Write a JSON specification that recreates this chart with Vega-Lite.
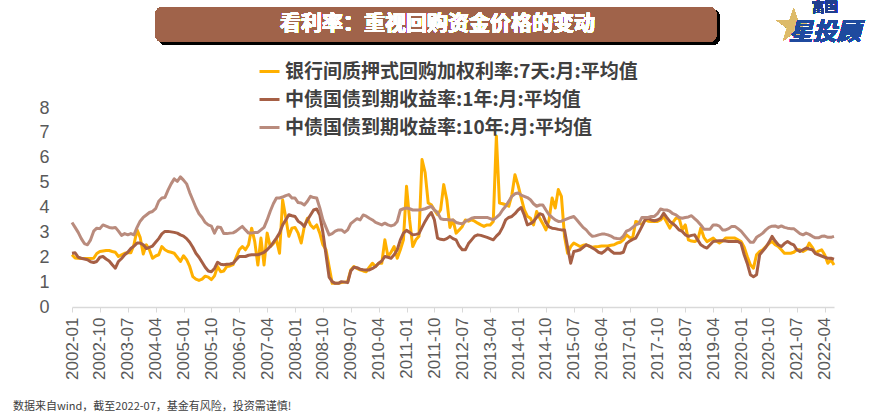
{
"$schema": "https://vega.github.io/schema/vega-lite/v6.json",
"width": 762, "height": 199,
"autosize": {"type": "none"},
"padding": {"left": 72, "top": 108, "right": 39, "bottom": 106},
"background": "white",
"config": {"view": {"stroke": null}, "font": "Liberation Sans"},
"title": {"text": "数据来自wind，截至2022-07，基金有风险，投资需谨慎!", "orient": "bottom", "anchor": "start", "frame": "bounds", "fontSize": 11, "fontWeight": "normal", "color": "#404040", "font": "Noto Sans CJK SC", "offset": 22, "dx": -26},
"resolve": {"scale": {"y": "independent"}, "axis": {"y": "independent"}},
"data": {"values": [
{"d":"2002-01","s":"r","v":2.1},{"d":"2002-01","s":"y1","v":2.16},{"d":"2002-01","s":"y10","v":3.4},
{"d":"2002-02","s":"r","v":1.97},{"d":"2002-02","s":"y1","v":2.18},{"d":"2002-02","s":"y10","v":3.2},
{"d":"2002-03","s":"r","v":1.96},{"d":"2002-03","s":"y1","v":2.0},{"d":"2002-03","s":"y10","v":3.0},
{"d":"2002-04","s":"r","v":1.95},{"d":"2002-04","s":"y1","v":1.96},{"d":"2002-04","s":"y10","v":2.75},
{"d":"2002-05","s":"r","v":1.95},{"d":"2002-05","s":"y1","v":1.93},{"d":"2002-05","s":"y10","v":2.55},
{"d":"2002-06","s":"r","v":1.95},{"d":"2002-06","s":"y1","v":1.9},{"d":"2002-06","s":"y10","v":2.5},
{"d":"2002-07","s":"r","v":1.95},{"d":"2002-07","s":"y1","v":1.82},{"d":"2002-07","s":"y10","v":2.7},
{"d":"2002-08","s":"r","v":1.96},{"d":"2002-08","s":"y1","v":1.79},{"d":"2002-08","s":"y10","v":3.05},
{"d":"2002-09","s":"r","v":2.15},{"d":"2002-09","s":"y1","v":1.83},{"d":"2002-09","s":"y10","v":3.17},
{"d":"2002-10","s":"r","v":2.23},{"d":"2002-10","s":"y1","v":2.0},{"d":"2002-10","s":"y10","v":3.15},
{"d":"2002-11","s":"r","v":2.25},{"d":"2002-11","s":"y1","v":2.03},{"d":"2002-11","s":"y10","v":3.3},
{"d":"2002-12","s":"r","v":2.27},{"d":"2002-12","s":"y1","v":1.93},{"d":"2002-12","s":"y10","v":3.25},
{"d":"2003-01","s":"r","v":2.27},{"d":"2003-01","s":"y1","v":1.85},{"d":"2003-01","s":"y10","v":3.2},
{"d":"2003-02","s":"r","v":2.23},{"d":"2003-02","s":"y1","v":1.7},{"d":"2003-02","s":"y10","v":3.18},
{"d":"2003-03","s":"r","v":2.2},{"d":"2003-03","s":"y1","v":1.56},{"d":"2003-03","s":"y10","v":3.2},
{"d":"2003-04","s":"r","v":2.03},{"d":"2003-04","s":"y1","v":1.83},{"d":"2003-04","s":"y10","v":3.05},
{"d":"2003-05","s":"r","v":2.1},{"d":"2003-05","s":"y1","v":1.95},{"d":"2003-05","s":"y10","v":2.88},
{"d":"2003-06","s":"r","v":2.16},{"d":"2003-06","s":"y1","v":2.1},{"d":"2003-06","s":"y10","v":2.95},
{"d":"2003-07","s":"r","v":2.18},{"d":"2003-07","s":"y1","v":2.2},{"d":"2003-07","s":"y10","v":2.9},
{"d":"2003-08","s":"r","v":2.18},{"d":"2003-08","s":"y1","v":2.35},{"d":"2003-08","s":"y10","v":2.95},
{"d":"2003-09","s":"r","v":2.5},{"d":"2003-09","s":"y1","v":2.45},{"d":"2003-09","s":"y10","v":2.9},
{"d":"2003-10","s":"r","v":3.1},{"d":"2003-10","s":"y1","v":2.57},{"d":"2003-10","s":"y10","v":3.2},
{"d":"2003-11","s":"r","v":2.8},{"d":"2003-11","s":"y1","v":2.57},{"d":"2003-11","s":"y10","v":3.45},
{"d":"2003-12","s":"r","v":2.13},{"d":"2003-12","s":"y1","v":2.5},{"d":"2003-12","s":"y10","v":3.6},
{"d":"2004-01","s":"r","v":2.5},{"d":"2004-01","s":"y1","v":2.35},{"d":"2004-01","s":"y10","v":3.7},
{"d":"2004-02","s":"r","v":2.3},{"d":"2004-02","s":"y1","v":2.4},{"d":"2004-02","s":"y10","v":3.8},
{"d":"2004-03","s":"r","v":1.96},{"d":"2004-03","s":"y1","v":2.45},{"d":"2004-03","s":"y10","v":3.84},
{"d":"2004-04","s":"r","v":2.05},{"d":"2004-04","s":"y1","v":2.6},{"d":"2004-04","s":"y10","v":3.95},
{"d":"2004-05","s":"r","v":2.1},{"d":"2004-05","s":"y1","v":2.75},{"d":"2004-05","s":"y10","v":4.25},
{"d":"2004-06","s":"r","v":2.43},{"d":"2004-06","s":"y1","v":2.94},{"d":"2004-06","s":"y10","v":4.38},
{"d":"2004-07","s":"r","v":2.3},{"d":"2004-07","s":"y1","v":3.04},{"d":"2004-07","s":"y10","v":4.4},
{"d":"2004-08","s":"r","v":2.23},{"d":"2004-08","s":"y1","v":3.04},{"d":"2004-08","s":"y10","v":4.7},
{"d":"2004-09","s":"r","v":2.2},{"d":"2004-09","s":"y1","v":3.02},{"d":"2004-09","s":"y10","v":4.95},
{"d":"2004-10","s":"r","v":2.16},{"d":"2004-10","s":"y1","v":3.0},{"d":"2004-10","s":"y10","v":5.15},
{"d":"2004-11","s":"r","v":2.0},{"d":"2004-11","s":"y1","v":2.97},{"d":"2004-11","s":"y10","v":5.05},
{"d":"2004-12","s":"r","v":1.83},{"d":"2004-12","s":"y1","v":2.9},{"d":"2004-12","s":"y10","v":5.23},
{"d":"2005-01","s":"r","v":2.06},{"d":"2005-01","s":"y1","v":2.85},{"d":"2005-01","s":"y10","v":5.1},
{"d":"2005-02","s":"r","v":1.9},{"d":"2005-02","s":"y1","v":2.75},{"d":"2005-02","s":"y10","v":4.95},
{"d":"2005-03","s":"r","v":1.63},{"d":"2005-03","s":"y1","v":2.6},{"d":"2005-03","s":"y10","v":4.6},
{"d":"2005-04","s":"r","v":1.22},{"d":"2005-04","s":"y1","v":2.4},{"d":"2005-04","s":"y10","v":4.3},
{"d":"2005-05","s":"r","v":1.12},{"d":"2005-05","s":"y1","v":2.16},{"d":"2005-05","s":"y10","v":4.0},
{"d":"2005-06","s":"r","v":1.07},{"d":"2005-06","s":"y1","v":2.0},{"d":"2005-06","s":"y10","v":3.75},
{"d":"2005-07","s":"r","v":1.12},{"d":"2005-07","s":"y1","v":1.8},{"d":"2005-07","s":"y10","v":3.6},
{"d":"2005-08","s":"r","v":1.24},{"d":"2005-08","s":"y1","v":1.6},{"d":"2005-08","s":"y10","v":3.4},
{"d":"2005-09","s":"r","v":1.2},{"d":"2005-09","s":"y1","v":1.45},{"d":"2005-09","s":"y10","v":3.3},
{"d":"2005-10","s":"r","v":1.1},{"d":"2005-10","s":"y1","v":1.42},{"d":"2005-10","s":"y10","v":3.25},
{"d":"2005-11","s":"r","v":1.25},{"d":"2005-11","s":"y1","v":1.55},{"d":"2005-11","s":"y10","v":2.97},
{"d":"2005-12","s":"r","v":1.63},{"d":"2005-12","s":"y1","v":1.8},{"d":"2005-12","s":"y10","v":3.22},
{"d":"2006-01","s":"r","v":1.42},{"d":"2006-01","s":"y1","v":1.72},{"d":"2006-01","s":"y10","v":3.2},
{"d":"2006-02","s":"r","v":1.45},{"d":"2006-02","s":"y1","v":1.7},{"d":"2006-02","s":"y10","v":2.95},
{"d":"2006-03","s":"r","v":1.63},{"d":"2006-03","s":"y1","v":1.72},{"d":"2006-03","s":"y10","v":2.95},
{"d":"2006-04","s":"r","v":1.65},{"d":"2006-04","s":"y1","v":1.73},{"d":"2006-04","s":"y10","v":2.97},
{"d":"2006-05","s":"r","v":1.7},{"d":"2006-05","s":"y1","v":1.76},{"d":"2006-05","s":"y10","v":2.98},
{"d":"2006-06","s":"r","v":2.0},{"d":"2006-06","s":"y1","v":1.9},{"d":"2006-06","s":"y10","v":3.05},
{"d":"2006-07","s":"r","v":2.3},{"d":"2006-07","s":"y1","v":2.03},{"d":"2006-07","s":"y10","v":3.15},
{"d":"2006-08","s":"r","v":2.43},{"d":"2006-08","s":"y1","v":2.03},{"d":"2006-08","s":"y10","v":3.24},
{"d":"2006-09","s":"r","v":2.3},{"d":"2006-09","s":"y1","v":2.03},{"d":"2006-09","s":"y10","v":3.1},
{"d":"2006-10","s":"r","v":2.5},{"d":"2006-10","s":"y1","v":2.08},{"d":"2006-10","s":"y10","v":2.97},
{"d":"2006-11","s":"r","v":3.17},{"d":"2006-11","s":"y1","v":2.1},{"d":"2006-11","s":"y10","v":2.97},
{"d":"2006-12","s":"r","v":2.63},{"d":"2006-12","s":"y1","v":2.1},{"d":"2006-12","s":"y10","v":3.0},
{"d":"2007-01","s":"r","v":1.69},{"d":"2007-01","s":"y1","v":2.1},{"d":"2007-01","s":"y10","v":3.0},
{"d":"2007-02","s":"r","v":2.77},{"d":"2007-02","s":"y1","v":2.15},{"d":"2007-02","s":"y10","v":3.1},
{"d":"2007-03","s":"r","v":1.69},{"d":"2007-03","s":"y1","v":2.2},{"d":"2007-03","s":"y10","v":3.2},
{"d":"2007-04","s":"r","v":2.97},{"d":"2007-04","s":"y1","v":2.3},{"d":"2007-04","s":"y10","v":3.5},
{"d":"2007-05","s":"r","v":2.43},{"d":"2007-05","s":"y1","v":2.43},{"d":"2007-05","s":"y10","v":3.85},
{"d":"2007-06","s":"r","v":2.55},{"d":"2007-06","s":"y1","v":2.6},{"d":"2007-06","s":"y10","v":4.15},
{"d":"2007-07","s":"r","v":2.7},{"d":"2007-07","s":"y1","v":2.77},{"d":"2007-07","s":"y10","v":4.38},
{"d":"2007-08","s":"r","v":2.16},{"d":"2007-08","s":"y1","v":2.97},{"d":"2007-08","s":"y10","v":4.38},
{"d":"2007-09","s":"r","v":4.3},{"d":"2007-09","s":"y1","v":3.3},{"d":"2007-09","s":"y10","v":4.42},
{"d":"2007-10","s":"r","v":3.6},{"d":"2007-10","s":"y1","v":3.5},{"d":"2007-10","s":"y10","v":4.48},
{"d":"2007-11","s":"r","v":2.84},{"d":"2007-11","s":"y1","v":3.71},{"d":"2007-11","s":"y10","v":4.52},
{"d":"2007-12","s":"r","v":3.17},{"d":"2007-12","s":"y1","v":3.67},{"d":"2007-12","s":"y10","v":4.38},
{"d":"2008-01","s":"r","v":3.2},{"d":"2008-01","s":"y1","v":3.64},{"d":"2008-01","s":"y10","v":4.38},
{"d":"2008-02","s":"r","v":2.97},{"d":"2008-02","s":"y1","v":3.45},{"d":"2008-02","s":"y10","v":4.2},
{"d":"2008-03","s":"r","v":2.57},{"d":"2008-03","s":"y1","v":3.37},{"d":"2008-03","s":"y10","v":4.18},
{"d":"2008-04","s":"r","v":3.24},{"d":"2008-04","s":"y1","v":3.24},{"d":"2008-04","s":"y10","v":4.1},
{"d":"2008-05","s":"r","v":3.57},{"d":"2008-05","s":"y1","v":3.5},{"d":"2008-05","s":"y10","v":4.25},
{"d":"2008-06","s":"r","v":3.3},{"d":"2008-06","s":"y1","v":3.7},{"d":"2008-06","s":"y10","v":4.45},
{"d":"2008-07","s":"r","v":3.17},{"d":"2008-07","s":"y1","v":3.9},{"d":"2008-07","s":"y10","v":4.4},
{"d":"2008-08","s":"r","v":3.3},{"d":"2008-08","s":"y1","v":3.94},{"d":"2008-08","s":"y10","v":4.38},
{"d":"2008-09","s":"r","v":2.97},{"d":"2008-09","s":"y1","v":3.7},{"d":"2008-09","s":"y10","v":3.98},
{"d":"2008-10","s":"r","v":2.5},{"d":"2008-10","s":"y1","v":3.0},{"d":"2008-10","s":"y10","v":3.5},
{"d":"2008-11","s":"r","v":2.3},{"d":"2008-11","s":"y1","v":2.1},{"d":"2008-11","s":"y10","v":3.2},
{"d":"2008-12","s":"r","v":1.63},{"d":"2008-12","s":"y1","v":1.2},{"d":"2008-12","s":"y10","v":2.9},
{"d":"2009-01","s":"r","v":0.95},{"d":"2009-01","s":"y1","v":1.02},{"d":"2009-01","s":"y10","v":2.95},
{"d":"2009-02","s":"r","v":0.95},{"d":"2009-02","s":"y1","v":0.95},{"d":"2009-02","s":"y10","v":3.05},
{"d":"2009-03","s":"r","v":0.95},{"d":"2009-03","s":"y1","v":0.95},{"d":"2009-03","s":"y10","v":3.1},
{"d":"2009-04","s":"r","v":0.98},{"d":"2009-04","s":"y1","v":1.02},{"d":"2009-04","s":"y10","v":3.1},
{"d":"2009-05","s":"r","v":1.0},{"d":"2009-05","s":"y1","v":1.0},{"d":"2009-05","s":"y10","v":3.0},
{"d":"2009-06","s":"r","v":1.02},{"d":"2009-06","s":"y1","v":0.98},{"d":"2009-06","s":"y10","v":3.1},
{"d":"2009-07","s":"r","v":1.49},{"d":"2009-07","s":"y1","v":1.45},{"d":"2009-07","s":"y10","v":3.35},
{"d":"2009-08","s":"r","v":1.63},{"d":"2009-08","s":"y1","v":1.6},{"d":"2009-08","s":"y10","v":3.45},
{"d":"2009-09","s":"r","v":1.55},{"d":"2009-09","s":"y1","v":1.58},{"d":"2009-09","s":"y10","v":3.55},
{"d":"2009-10","s":"r","v":1.49},{"d":"2009-10","s":"y1","v":1.52},{"d":"2009-10","s":"y10","v":3.5},
{"d":"2009-11","s":"r","v":1.45},{"d":"2009-11","s":"y1","v":1.5},{"d":"2009-11","s":"y10","v":3.7},
{"d":"2009-12","s":"r","v":1.42},{"d":"2009-12","s":"y1","v":1.49},{"d":"2009-12","s":"y10","v":3.65},
{"d":"2010-01","s":"r","v":1.6},{"d":"2010-01","s":"y1","v":1.49},{"d":"2010-01","s":"y10","v":3.57},
{"d":"2010-02","s":"r","v":1.76},{"d":"2010-02","s":"y1","v":1.55},{"d":"2010-02","s":"y10","v":3.5},
{"d":"2010-03","s":"r","v":1.63},{"d":"2010-03","s":"y1","v":1.63},{"d":"2010-03","s":"y10","v":3.4},
{"d":"2010-04","s":"r","v":1.76},{"d":"2010-04","s":"y1","v":1.76},{"d":"2010-04","s":"y10","v":3.35},
{"d":"2010-05","s":"r","v":1.76},{"d":"2010-05","s":"y1","v":1.85},{"d":"2010-05","s":"y10","v":3.3},
{"d":"2010-06","s":"r","v":2.7},{"d":"2010-06","s":"y1","v":2.03},{"d":"2010-06","s":"y10","v":3.37},
{"d":"2010-07","s":"r","v":2.03},{"d":"2010-07","s":"y1","v":2.0},{"d":"2010-07","s":"y10","v":3.3},
{"d":"2010-08","s":"r","v":2.2},{"d":"2010-08","s":"y1","v":1.96},{"d":"2010-08","s":"y10","v":3.26},
{"d":"2010-09","s":"r","v":2.43},{"d":"2010-09","s":"y1","v":2.1},{"d":"2010-09","s":"y10","v":3.3},
{"d":"2010-10","s":"r","v":1.96},{"d":"2010-10","s":"y1","v":2.3},{"d":"2010-10","s":"y10","v":3.44},
{"d":"2010-11","s":"r","v":2.3},{"d":"2010-11","s":"y1","v":2.7},{"d":"2010-11","s":"y10","v":3.9},
{"d":"2010-12","s":"r","v":2.7},{"d":"2010-12","s":"y1","v":2.97},{"d":"2010-12","s":"y10","v":3.95},
{"d":"2011-01","s":"r","v":4.85},{"d":"2011-01","s":"y1","v":3.08},{"d":"2011-01","s":"y10","v":3.98},
{"d":"2011-02","s":"r","v":3.5},{"d":"2011-02","s":"y1","v":3.0},{"d":"2011-02","s":"y10","v":3.95},
{"d":"2011-03","s":"r","v":2.43},{"d":"2011-03","s":"y1","v":2.9},{"d":"2011-03","s":"y10","v":3.9},
{"d":"2011-04","s":"r","v":2.7},{"d":"2011-04","s":"y1","v":2.92},{"d":"2011-04","s":"y10","v":3.9},
{"d":"2011-05","s":"r","v":2.84},{"d":"2011-05","s":"y1","v":2.95},{"d":"2011-05","s":"y10","v":3.9},
{"d":"2011-06","s":"r","v":5.93},{"d":"2011-06","s":"y1","v":3.2},{"d":"2011-06","s":"y10","v":3.92},
{"d":"2011-07","s":"r","v":5.4},{"d":"2011-07","s":"y1","v":3.44},{"d":"2011-07","s":"y10","v":3.95},
{"d":"2011-08","s":"r","v":4.18},{"d":"2011-08","s":"y1","v":3.65},{"d":"2011-08","s":"y10","v":4.0},
{"d":"2011-09","s":"r","v":4.11},{"d":"2011-09","s":"y1","v":3.8},{"d":"2011-09","s":"y10","v":4.05},
{"d":"2011-10","s":"r","v":3.9},{"d":"2011-10","s":"y1","v":3.5},{"d":"2011-10","s":"y10","v":3.9},
{"d":"2011-11","s":"r","v":3.71},{"d":"2011-11","s":"y1","v":2.77},{"d":"2011-11","s":"y10","v":3.8},
{"d":"2011-12","s":"r","v":3.91},{"d":"2011-12","s":"y1","v":2.72},{"d":"2011-12","s":"y10","v":3.55},
{"d":"2012-01","s":"r","v":4.92},{"d":"2012-01","s":"y1","v":2.7},{"d":"2012-01","s":"y10","v":3.52},
{"d":"2012-02","s":"r","v":4.31},{"d":"2012-02","s":"y1","v":2.75},{"d":"2012-02","s":"y10","v":3.52},
{"d":"2012-03","s":"r","v":3.2},{"d":"2012-03","s":"y1","v":2.84},{"d":"2012-03","s":"y10","v":3.5},
{"d":"2012-04","s":"r","v":3.5},{"d":"2012-04","s":"y1","v":2.75},{"d":"2012-04","s":"y10","v":3.5},
{"d":"2012-05","s":"r","v":2.97},{"d":"2012-05","s":"y1","v":2.7},{"d":"2012-05","s":"y10","v":3.4},
{"d":"2012-06","s":"r","v":3.1},{"d":"2012-06","s":"y1","v":2.45},{"d":"2012-06","s":"y10","v":3.37},
{"d":"2012-07","s":"r","v":3.24},{"d":"2012-07","s":"y1","v":2.3},{"d":"2012-07","s":"y10","v":3.35},
{"d":"2012-08","s":"r","v":3.5},{"d":"2012-08","s":"y1","v":2.3},{"d":"2012-08","s":"y10","v":3.44},
{"d":"2012-09","s":"r","v":3.45},{"d":"2012-09","s":"y1","v":2.55},{"d":"2012-09","s":"y10","v":3.5},
{"d":"2012-10","s":"r","v":3.5},{"d":"2012-10","s":"y1","v":2.7},{"d":"2012-10","s":"y10","v":3.57},
{"d":"2012-11","s":"r","v":3.45},{"d":"2012-11","s":"y1","v":2.85},{"d":"2012-11","s":"y10","v":3.6},
{"d":"2012-12","s":"r","v":3.37},{"d":"2012-12","s":"y1","v":2.9},{"d":"2012-12","s":"y10","v":3.6},
{"d":"2013-01","s":"r","v":3.3},{"d":"2013-01","s":"y1","v":2.88},{"d":"2013-01","s":"y10","v":3.6},
{"d":"2013-02","s":"r","v":3.24},{"d":"2013-02","s":"y1","v":2.84},{"d":"2013-02","s":"y10","v":3.6},
{"d":"2013-03","s":"r","v":3.3},{"d":"2013-03","s":"y1","v":2.8},{"d":"2013-03","s":"y10","v":3.6},
{"d":"2013-04","s":"r","v":3.3},{"d":"2013-04","s":"y1","v":2.75},{"d":"2013-04","s":"y10","v":3.55},
{"d":"2013-05","s":"r","v":3.44},{"d":"2013-05","s":"y1","v":2.7},{"d":"2013-05","s":"y10","v":3.5},
{"d":"2013-06","s":"r","v":6.87},{"d":"2013-06","s":"y1","v":2.85},{"d":"2013-06","s":"y10","v":3.6},
{"d":"2013-07","s":"r","v":4.18},{"d":"2013-07","s":"y1","v":2.97},{"d":"2013-07","s":"y10","v":3.71},
{"d":"2013-08","s":"r","v":4.15},{"d":"2013-08","s":"y1","v":3.2},{"d":"2013-08","s":"y10","v":3.9},
{"d":"2013-09","s":"r","v":4.11},{"d":"2013-09","s":"y1","v":3.5},{"d":"2013-09","s":"y10","v":4.05},
{"d":"2013-10","s":"r","v":4.05},{"d":"2013-10","s":"y1","v":3.6},{"d":"2013-10","s":"y10","v":4.25},
{"d":"2013-11","s":"r","v":4.5},{"d":"2013-11","s":"y1","v":3.64},{"d":"2013-11","s":"y10","v":4.45},
{"d":"2013-12","s":"r","v":5.32},{"d":"2013-12","s":"y1","v":3.75},{"d":"2013-12","s":"y10","v":4.55},
{"d":"2014-01","s":"r","v":4.9},{"d":"2014-01","s":"y1","v":3.9},{"d":"2014-01","s":"y10","v":4.58},
{"d":"2014-02","s":"r","v":4.4},{"d":"2014-02","s":"y1","v":4.0},{"d":"2014-02","s":"y10","v":4.5},
{"d":"2014-03","s":"r","v":3.91},{"d":"2014-03","s":"y1","v":3.7},{"d":"2014-03","s":"y10","v":4.45},
{"d":"2014-04","s":"r","v":3.65},{"d":"2014-04","s":"y1","v":3.3},{"d":"2014-04","s":"y10","v":4.4},
{"d":"2014-05","s":"r","v":3.57},{"d":"2014-05","s":"y1","v":3.35},{"d":"2014-05","s":"y10","v":4.31},
{"d":"2014-06","s":"r","v":3.3},{"d":"2014-06","s":"y1","v":3.44},{"d":"2014-06","s":"y10","v":4.15},
{"d":"2014-07","s":"r","v":3.84},{"d":"2014-07","s":"y1","v":3.6},{"d":"2014-07","s":"y10","v":4.05},
{"d":"2014-08","s":"r","v":3.57},{"d":"2014-08","s":"y1","v":3.75},{"d":"2014-08","s":"y10","v":4.1},
{"d":"2014-09","s":"r","v":3.35},{"d":"2014-09","s":"y1","v":3.7},{"d":"2014-09","s":"y10","v":4.1},
{"d":"2014-10","s":"r","v":3.1},{"d":"2014-10","s":"y1","v":3.4},{"d":"2014-10","s":"y10","v":3.9},
{"d":"2014-11","s":"r","v":3.5},{"d":"2014-11","s":"y1","v":3.22},{"d":"2014-11","s":"y10","v":3.71},
{"d":"2014-12","s":"r","v":4.38},{"d":"2014-12","s":"y1","v":3.17},{"d":"2014-12","s":"y10","v":3.6},
{"d":"2015-01","s":"r","v":3.98},{"d":"2015-01","s":"y1","v":3.15},{"d":"2015-01","s":"y10","v":3.5},
{"d":"2015-02","s":"r","v":4.72},{"d":"2015-02","s":"y1","v":3.12},{"d":"2015-02","s":"y10","v":3.44},
{"d":"2015-03","s":"r","v":4.45},{"d":"2015-03","s":"y1","v":3.1},{"d":"2015-03","s":"y10","v":3.45},
{"d":"2015-04","s":"r","v":2.84},{"d":"2015-04","s":"y1","v":3.1},{"d":"2015-04","s":"y10","v":3.5},
{"d":"2015-05","s":"r","v":2.16},{"d":"2015-05","s":"y1","v":2.4},{"d":"2015-05","s":"y10","v":3.55},
{"d":"2015-06","s":"r","v":2.43},{"d":"2015-06","s":"y1","v":1.76},{"d":"2015-06","s":"y10","v":3.6},
{"d":"2015-07","s":"r","v":2.57},{"d":"2015-07","s":"y1","v":2.23},{"d":"2015-07","s":"y10","v":3.64},
{"d":"2015-08","s":"r","v":2.5},{"d":"2015-08","s":"y1","v":2.26},{"d":"2015-08","s":"y10","v":3.5},
{"d":"2015-09","s":"r","v":2.43},{"d":"2015-09","s":"y1","v":2.3},{"d":"2015-09","s":"y10","v":3.35},
{"d":"2015-10","s":"r","v":2.48},{"d":"2015-10","s":"y1","v":2.4},{"d":"2015-10","s":"y10","v":3.2},
{"d":"2015-11","s":"r","v":2.5},{"d":"2015-11","s":"y1","v":2.5},{"d":"2015-11","s":"y10","v":3.1},
{"d":"2015-12","s":"r","v":2.45},{"d":"2015-12","s":"y1","v":2.45},{"d":"2015-12","s":"y10","v":2.95},
{"d":"2016-01","s":"r","v":2.4},{"d":"2016-01","s":"y1","v":2.37},{"d":"2016-01","s":"y10","v":2.84},
{"d":"2016-02","s":"r","v":2.42},{"d":"2016-02","s":"y1","v":2.3},{"d":"2016-02","s":"y10","v":2.86},
{"d":"2016-03","s":"r","v":2.43},{"d":"2016-03","s":"y1","v":2.2},{"d":"2016-03","s":"y10","v":2.9},
{"d":"2016-04","s":"r","v":2.45},{"d":"2016-04","s":"y1","v":2.16},{"d":"2016-04","s":"y10","v":2.93},
{"d":"2016-05","s":"r","v":2.45},{"d":"2016-05","s":"y1","v":2.25},{"d":"2016-05","s":"y10","v":2.93},
{"d":"2016-06","s":"r","v":2.45},{"d":"2016-06","s":"y1","v":2.37},{"d":"2016-06","s":"y10","v":2.9},
{"d":"2016-07","s":"r","v":2.48},{"d":"2016-07","s":"y1","v":2.25},{"d":"2016-07","s":"y10","v":2.85},
{"d":"2016-08","s":"r","v":2.5},{"d":"2016-08","s":"y1","v":2.16},{"d":"2016-08","s":"y10","v":2.77},
{"d":"2016-09","s":"r","v":2.57},{"d":"2016-09","s":"y1","v":2.16},{"d":"2016-09","s":"y10","v":2.75},
{"d":"2016-10","s":"r","v":2.6},{"d":"2016-10","s":"y1","v":2.16},{"d":"2016-10","s":"y10","v":2.74},
{"d":"2016-11","s":"r","v":2.7},{"d":"2016-11","s":"y1","v":2.2},{"d":"2016-11","s":"y10","v":2.85},
{"d":"2016-12","s":"r","v":2.9},{"d":"2016-12","s":"y1","v":2.55},{"d":"2016-12","s":"y10","v":3.05},
{"d":"2017-01","s":"r","v":2.8},{"d":"2017-01","s":"y1","v":2.65},{"d":"2017-01","s":"y10","v":3.1},
{"d":"2017-02","s":"r","v":2.77},{"d":"2017-02","s":"y1","v":2.72},{"d":"2017-02","s":"y10","v":3.2},
{"d":"2017-03","s":"r","v":3.44},{"d":"2017-03","s":"y1","v":2.77},{"d":"2017-03","s":"y10","v":3.3},
{"d":"2017-04","s":"r","v":3.4},{"d":"2017-04","s":"y1","v":3.0},{"d":"2017-04","s":"y10","v":3.35},
{"d":"2017-05","s":"r","v":3.3},{"d":"2017-05","s":"y1","v":3.24},{"d":"2017-05","s":"y10","v":3.6},
{"d":"2017-06","s":"r","v":3.5},{"d":"2017-06","s":"y1","v":3.5},{"d":"2017-06","s":"y10","v":3.6},
{"d":"2017-07","s":"r","v":3.45},{"d":"2017-07","s":"y1","v":3.57},{"d":"2017-07","s":"y10","v":3.6},
{"d":"2017-08","s":"r","v":3.44},{"d":"2017-08","s":"y1","v":3.5},{"d":"2017-08","s":"y10","v":3.64},
{"d":"2017-09","s":"r","v":3.44},{"d":"2017-09","s":"y1","v":3.47},{"d":"2017-09","s":"y10","v":3.64},
{"d":"2017-10","s":"r","v":3.44},{"d":"2017-10","s":"y1","v":3.5},{"d":"2017-10","s":"y10","v":3.75},
{"d":"2017-11","s":"r","v":3.5},{"d":"2017-11","s":"y1","v":3.57},{"d":"2017-11","s":"y10","v":3.94},
{"d":"2017-12","s":"r","v":3.64},{"d":"2017-12","s":"y1","v":3.77},{"d":"2017-12","s":"y10","v":3.9},
{"d":"2018-01","s":"r","v":3.4},{"d":"2018-01","s":"y1","v":3.6},{"d":"2018-01","s":"y10","v":3.9},
{"d":"2018-02","s":"r","v":3.17},{"d":"2018-02","s":"y1","v":3.44},{"d":"2018-02","s":"y10","v":3.85},
{"d":"2018-03","s":"r","v":3.4},{"d":"2018-03","s":"y1","v":3.35},{"d":"2018-03","s":"y10","v":3.75},
{"d":"2018-04","s":"r","v":3.57},{"d":"2018-04","s":"y1","v":3.24},{"d":"2018-04","s":"y10","v":3.7},
{"d":"2018-05","s":"r","v":3.57},{"d":"2018-05","s":"y1","v":3.1},{"d":"2018-05","s":"y10","v":3.6},
{"d":"2018-06","s":"r","v":3.1},{"d":"2018-06","s":"y1","v":3.04},{"d":"2018-06","s":"y10","v":3.57},
{"d":"2018-07","s":"r","v":3.3},{"d":"2018-07","s":"y1","v":2.9},{"d":"2018-07","s":"y10","v":3.6},
{"d":"2018-08","s":"r","v":2.7},{"d":"2018-08","s":"y1","v":2.84},{"d":"2018-08","s":"y10","v":3.62},
{"d":"2018-09","s":"r","v":2.65},{"d":"2018-09","s":"y1","v":2.88},{"d":"2018-09","s":"y10","v":3.67},
{"d":"2018-10","s":"r","v":2.63},{"d":"2018-10","s":"y1","v":2.9},{"d":"2018-10","s":"y10","v":3.55},
{"d":"2018-11","s":"r","v":2.7},{"d":"2018-11","s":"y1","v":2.7},{"d":"2018-11","s":"y10","v":3.44},
{"d":"2018-12","s":"r","v":3.17},{"d":"2018-12","s":"y1","v":2.5},{"d":"2018-12","s":"y10","v":3.3},
{"d":"2019-01","s":"r","v":2.8},{"d":"2019-01","s":"y1","v":2.42},{"d":"2019-01","s":"y10","v":3.13},
{"d":"2019-02","s":"r","v":2.63},{"d":"2019-02","s":"y1","v":2.37},{"d":"2019-02","s":"y10","v":3.13},
{"d":"2019-03","s":"r","v":2.7},{"d":"2019-03","s":"y1","v":2.5},{"d":"2019-03","s":"y10","v":3.13},
{"d":"2019-04","s":"r","v":2.77},{"d":"2019-04","s":"y1","v":2.63},{"d":"2019-04","s":"y10","v":3.3},
{"d":"2019-05","s":"r","v":2.65},{"d":"2019-05","s":"y1","v":2.65},{"d":"2019-05","s":"y10","v":3.3},
{"d":"2019-06","s":"r","v":2.57},{"d":"2019-06","s":"y1","v":2.66},{"d":"2019-06","s":"y10","v":3.25},
{"d":"2019-07","s":"r","v":2.65},{"d":"2019-07","s":"y1","v":2.66},{"d":"2019-07","s":"y10","v":3.1},
{"d":"2019-08","s":"r","v":2.77},{"d":"2019-08","s":"y1","v":2.65},{"d":"2019-08","s":"y10","v":3.1},
{"d":"2019-09","s":"r","v":2.77},{"d":"2019-09","s":"y1","v":2.63},{"d":"2019-09","s":"y10","v":3.15},
{"d":"2019-10","s":"r","v":2.77},{"d":"2019-10","s":"y1","v":2.63},{"d":"2019-10","s":"y10","v":3.24},
{"d":"2019-11","s":"r","v":2.77},{"d":"2019-11","s":"y1","v":2.63},{"d":"2019-11","s":"y10","v":3.24},
{"d":"2019-12","s":"r","v":2.7},{"d":"2019-12","s":"y1","v":2.63},{"d":"2019-12","s":"y10","v":3.15},
{"d":"2020-01","s":"r","v":2.63},{"d":"2020-01","s":"y1","v":2.55},{"d":"2020-01","s":"y10","v":3.05},
{"d":"2020-02","s":"r","v":2.4},{"d":"2020-02","s":"y1","v":2.1},{"d":"2020-02","s":"y10","v":2.9},
{"d":"2020-03","s":"r","v":2.03},{"d":"2020-03","s":"y1","v":1.75},{"d":"2020-03","s":"y10","v":2.75},
{"d":"2020-04","s":"r","v":1.7},{"d":"2020-04","s":"y1","v":1.3},{"d":"2020-04","s":"y10","v":2.6},
{"d":"2020-05","s":"r","v":1.56},{"d":"2020-05","s":"y1","v":1.22},{"d":"2020-05","s":"y10","v":2.6},
{"d":"2020-06","s":"r","v":2.1},{"d":"2020-06","s":"y1","v":1.3},{"d":"2020-06","s":"y10","v":2.8},
{"d":"2020-07","s":"r","v":2.23},{"d":"2020-07","s":"y1","v":2.1},{"d":"2020-07","s":"y10","v":2.88},
{"d":"2020-08","s":"r","v":2.3},{"d":"2020-08","s":"y1","v":2.25},{"d":"2020-08","s":"y10","v":2.97},
{"d":"2020-09","s":"r","v":2.43},{"d":"2020-09","s":"y1","v":2.4},{"d":"2020-09","s":"y10","v":3.1},
{"d":"2020-10","s":"r","v":2.55},{"d":"2020-10","s":"y1","v":2.6},{"d":"2020-10","s":"y10","v":3.2},
{"d":"2020-11","s":"r","v":2.63},{"d":"2020-11","s":"y1","v":2.84},{"d":"2020-11","s":"y10","v":3.25},
{"d":"2020-12","s":"r","v":2.5},{"d":"2020-12","s":"y1","v":2.65},{"d":"2020-12","s":"y10","v":3.26},
{"d":"2021-01","s":"r","v":2.43},{"d":"2021-01","s":"y1","v":2.5},{"d":"2021-01","s":"y10","v":3.2},
{"d":"2021-02","s":"r","v":2.3},{"d":"2021-02","s":"y1","v":2.43},{"d":"2021-02","s":"y10","v":3.26},
{"d":"2021-03","s":"r","v":2.16},{"d":"2021-03","s":"y1","v":2.55},{"d":"2021-03","s":"y10","v":3.2},
{"d":"2021-04","s":"r","v":2.16},{"d":"2021-04","s":"y1","v":2.63},{"d":"2021-04","s":"y10","v":3.17},
{"d":"2021-05","s":"r","v":2.16},{"d":"2021-05","s":"y1","v":2.55},{"d":"2021-05","s":"y10","v":3.15},
{"d":"2021-06","s":"r","v":2.2},{"d":"2021-06","s":"y1","v":2.5},{"d":"2021-06","s":"y10","v":3.15},
{"d":"2021-07","s":"r","v":2.3},{"d":"2021-07","s":"y1","v":2.3},{"d":"2021-07","s":"y10","v":3.05},
{"d":"2021-08","s":"r","v":2.3},{"d":"2021-08","s":"y1","v":2.23},{"d":"2021-08","s":"y10","v":2.95},
{"d":"2021-09","s":"r","v":2.23},{"d":"2021-09","s":"y1","v":2.3},{"d":"2021-09","s":"y10","v":2.9},
{"d":"2021-10","s":"r","v":2.3},{"d":"2021-10","s":"y1","v":2.37},{"d":"2021-10","s":"y10","v":2.97},
{"d":"2021-11","s":"r","v":2.57},{"d":"2021-11","s":"y1","v":2.33},{"d":"2021-11","s":"y10","v":2.92},
{"d":"2021-12","s":"r","v":2.4},{"d":"2021-12","s":"y1","v":2.3},{"d":"2021-12","s":"y10","v":2.84},
{"d":"2022-01","s":"r","v":2.16},{"d":"2022-01","s":"y1","v":2.15},{"d":"2022-01","s":"y10","v":2.78},
{"d":"2022-02","s":"r","v":2.25},{"d":"2022-02","s":"y1","v":2.1},{"d":"2022-02","s":"y10","v":2.78},
{"d":"2022-03","s":"r","v":2.3},{"d":"2022-03","s":"y1","v":2.05},{"d":"2022-03","s":"y10","v":2.84},
{"d":"2022-04","s":"r","v":2.1},{"d":"2022-04","s":"y1","v":2.0},{"d":"2022-04","s":"y10","v":2.85},
{"d":"2022-05","s":"r","v":1.76},{"d":"2022-05","s":"y1","v":1.96},{"d":"2022-05","s":"y10","v":2.8},
{"d":"2022-06","s":"r","v":1.9},{"d":"2022-06","s":"y1","v":1.96},{"d":"2022-06","s":"y10","v":2.8},
{"d":"2022-07","s":"r","v":1.69},{"d":"2022-07","s":"y1","v":1.92},{"d":"2022-07","s":"y10","v":2.84}
]},
"layer": [
{"mark": {"type": "line", "strokeWidth": 3, "clip": false, "strokeJoin": "round"},
 "encoding": {
  "x": {"field": "d", "type": "ordinal", "scale": {"type": "point", "padding": 0},
        "axis": {"title": null, "values": ["2002-01","2002-10","2003-07","2004-04","2005-01","2005-10","2006-07","2007-04","2008-01","2008-10","2009-07","2010-04","2011-01","2011-10","2012-07","2013-04","2014-01","2014-10","2015-07","2016-04","2017-01","2017-10","2018-07","2019-04","2020-01","2020-10","2021-07","2022-04"],
                 "labelAngle": -90, "labelFontSize": 17, "labelColor": "#595959", "labelFont": "Liberation Sans", "labelPadding": 5, "labelOverlap": false, "tickSize": 5, "tickColor": "#d9d9d9", "domainColor": "#d9d9d9", "domainWidth": 1.5, "grid": false}},
  "y": {"field": "v", "type": "quantitative", "scale": {"domain": [0, 8], "nice": false},
        "axis": {"title": null, "values": [0,1,2,3,4,5,6,7,8], "domain": false, "ticks": false, "grid": false, "labelOverlap": false, "labelSeparation": 0, "labelFontSize": 18, "labelColor": "#595959", "labelFont": "Liberation Sans", "labelPadding": 23}},
  "color": {"field": "s", "type": "nominal",
            "scale": {"domain": ["r","y1","y10"], "range": ["#FFB000","#A65F45","#B98B7D"]},
            "legend": {"orient": "none", "legendX": 186, "legendY": -48, "direction": "vertical", "title": null,
                       "symbolType": "stroke", "symbolStrokeWidth": 3, "symbolSize": 400, "labelFontSize": 19, "labelFont": "Noto Sans CJK SC", "labelFontWeight": "bold", "labelColor": "#404040", "rowPadding": 6, "labelLimit": 0, "labelOffset": 4,
                       "labelExpr": "datum.value == 'r' ? '银行间质押式回购加权利率:7天:月:平均值' : datum.value == 'y1' ? '中债国债到期收益率:1年:月:平均值' : '中债国债到期收益率:10年:月:平均值'"}}
 }},
{"mark": {"type": "point", "shape": "M0,-1L0.2245,-0.309L0.951,-0.309L0.363,0.118L0.588,0.809L0,0.382L-0.588,0.809L-0.363,0.118L-0.951,-0.309L-0.2245,-0.309Z", "filled": true, "color": "#DDBB6A", "opacity": 0.85, "size": 1300, "clip": false},
 "encoding": {"x": {"datum": "2021-06", "type": "ordinal"}, "y": {"datum": 11.3, "type": "quantitative", "scale": {"domain": [0, 8], "nice": false}, "axis": null}}},
{"mark": {"type": "rect", "color": "#000000", "opacity": 0.12, "cornerRadius": 6, "clip": false},
 "encoding": {"x": {"datum": "2004-05", "type": "ordinal"}, "x2": {"datum": "2019-06"}, "y": {"datum": 11.95, "type": "quantitative", "scale": {"domain": [0, 8], "nice": false}, "axis": null}, "y2": {"datum": 10.55}}},
{"mark": {"type": "rect", "color": "#A0634A", "cornerRadius": 6, "clip": false},
 "encoding": {"x": {"datum": "2004-04", "type": "ordinal"}, "x2": {"datum": "2019-05"}, "y": {"datum": 12.04, "type": "quantitative", "scale": {"domain": [0, 8], "nice": false}, "axis": null}, "y2": {"datum": 10.67}}},
{"mark": {"type": "text", "color": "white", "font": "Noto Sans CJK SC", "fontWeight": "bold", "fontSize": 21, "align": "center", "baseline": "middle", "clip": false},
 "encoding": {"x": {"datum": "2011-11", "type": "ordinal"}, "y": {"datum": 11.36, "type": "quantitative", "scale": {"domain": [0, 8], "nice": false}, "axis": null}, "text": {"value": "看利率：重视回购资金价格的变动"}}},
{"mark": {"type": "text", "color": "#1F3F8F", "font": "Noto Sans CJK SC", "fontWeight": "bold", "fontSize": 13, "align": "center", "baseline": "middle", "clip": false},
 "encoding": {"x": {"datum": "2022-04", "type": "ordinal"}, "y": {"datum": 12.05, "type": "quantitative", "scale": {"domain": [0, 8], "nice": false}, "axis": null}, "text": {"value": "富国"}}},
{"mark": {"type": "text", "color": "#1F4A9E", "font": "Noto Sans CJK SC", "fontWeight": "bold", "fontStyle": "italic", "fontSize": 24, "align": "center", "baseline": "middle", "clip": false},
 "encoding": {"x": {"datum": "2022-04", "type": "ordinal"}, "y": {"datum": 11.0, "type": "quantitative", "scale": {"domain": [0, 8], "nice": false}, "axis": null}, "text": {"value": "星投顾"}}}
]
}
